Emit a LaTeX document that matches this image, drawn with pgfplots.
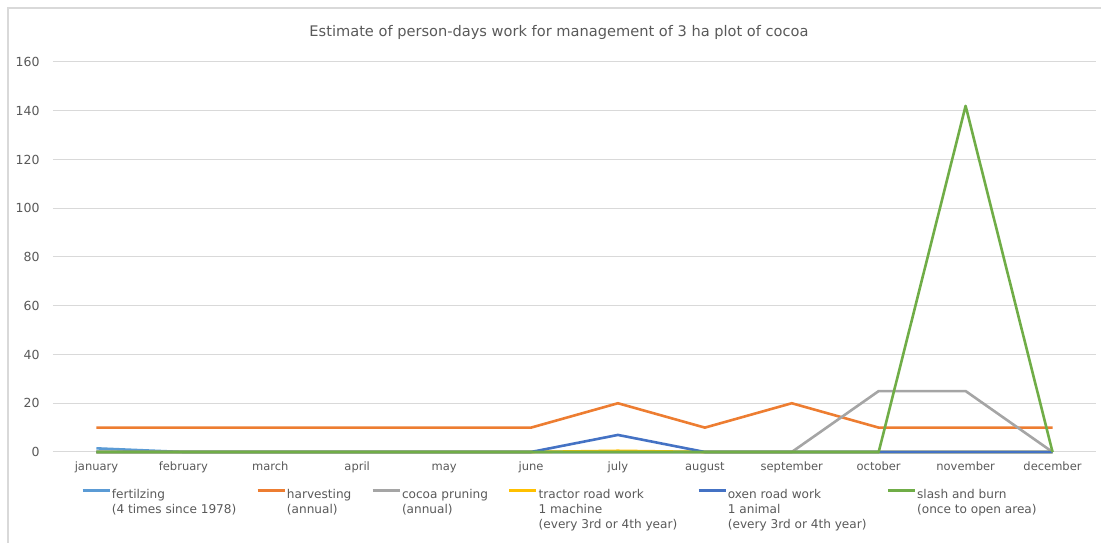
\documentclass[border=0pt]{standalone}
\usepackage{fontspec}
\setmainfont{DejaVu Sans}
\usepackage{pgfplots}
\pgfplotsset{compat=1.18}

\definecolor{txtgray}{RGB}{89,89,89}
\definecolor{gridgray}{RGB}{217,217,217}
\definecolor{framegray}{RGB}{217,217,217}
\definecolor{cFert}{RGB}{91,155,213}
\definecolor{cHarv}{RGB}{237,125,49}
\definecolor{cPrun}{RGB}{165,165,165}
\definecolor{cTrac}{RGB}{255,192,0}
\definecolor{cOxen}{RGB}{68,114,196}
\definecolor{cSlash}{RGB}{112,173,71}

% months indexed 0 (january) ... 11 (december)
\pgfplotstableread{
m fert harv prun trac oxen slash
0  1.5 10 0  0   0   0
1  0   10 0  0   0   0
2  0   10 0  0   0   0
3  0   10 0  0   0   0
4  0   10 0  0   0   0
5  0   10 0  0   0   0
6  0   20 0  0.5 7   0
7  0   10 0  0   0   0
8  0   20 0  0   0   0
9  0   10 25 0   0   0
10 0   10 25 0   0   142
11 0   10 0  0   0   0
}\worktable

\newcommand{\twoline}[1]{\begin{tabular}[t]{@{}l@{}}#1\end{tabular}}

\begin{document}
\begin{tikzpicture}
\begin{axis}[
  scale only axis, width=1043pt, height=390pt,
  xmin=-0.5, xmax=11.5, ymin=0, ymax=160,
  clip=false,
  xtick={0,...,11},
  xticklabels={january,february,march,april,may,june,july,august,september,october,november,december},
  ytick={0,20,...,160},
  axis line style={draw=none},
  major tick length=0pt,
  ymajorgrids, grid style={gridgray, line width=1pt},
  tick label style={txtgray},
  /pgf/number format/assume math mode=true,
  xticklabel style={anchor=base, yshift=-19pt, font=\fontsize{11.5}{14}\selectfont},
  yticklabel style={xshift=-10pt, font=\fontsize{12.5}{14}\selectfont},
  every axis plot/.append style={line width=2.6pt, line join=round},
  legend columns=6,
  legend cell align=left,
  legend style={
    at={(axis description cs:0.024,-0.085)}, anchor=north west,
    draw=none, fill=none,
    font=\fontsize{12.1}{15}\selectfont, text=txtgray,
    nodes={inner sep=1pt},
    /tikz/every even column/.append style={column sep=19pt},
  },
  legend image code/.code={\draw[#1] (0pt,4pt) -- (27pt,4pt);},
]
\coordinate (ll) at (rel axis cs:0,0);
\addplot[cFert] table[x=m,y=fert] {\worktable};
\addlegendentry{\twoline{fertilzing\\(4 times since 1978)}}
\addplot[cHarv] table[x=m,y=harv] {\worktable};
\addlegendentry{\twoline{harvesting\\(annual)}}
\addplot[cPrun] table[x=m,y=prun] {\worktable};
\addlegendentry{\twoline{cocoa pruning\\(annual)}}
\addplot[cTrac] table[x=m,y=trac] {\worktable};
\addlegendentry{\twoline{tractor road work\\1 machine\\(every 3rd or 4th year)}}
\addplot[cOxen] table[x=m,y=oxen] {\worktable};
\addlegendentry{\twoline{oxen road work\\1 animal\\(every 3rd or 4th year)}}
\addplot[cSlash] table[x=m,y=slash] {\worktable};
\addlegendentry{\twoline{slash and burn\\(once to open area)}}
\end{axis}
% page frame and title, measured from the lower left corner of the plot area
\pgfresetboundingbox
\begin{scope}[shift={(ll)}, x=1pt, y=1pt]
\path[use as bounding box] (-53,-91) rectangle (1048,452);
\draw[framegray, line width=1.5pt] (-45,-91) -- (-45,444) -- (1048,444);
\node[txtgray, font=\fontsize{14.6}{17}\selectfont] at (506,420) {Estimate of person-days work for management of 3 ha plot of cocoa};
\end{scope}
\end{tikzpicture}
\end{document}
